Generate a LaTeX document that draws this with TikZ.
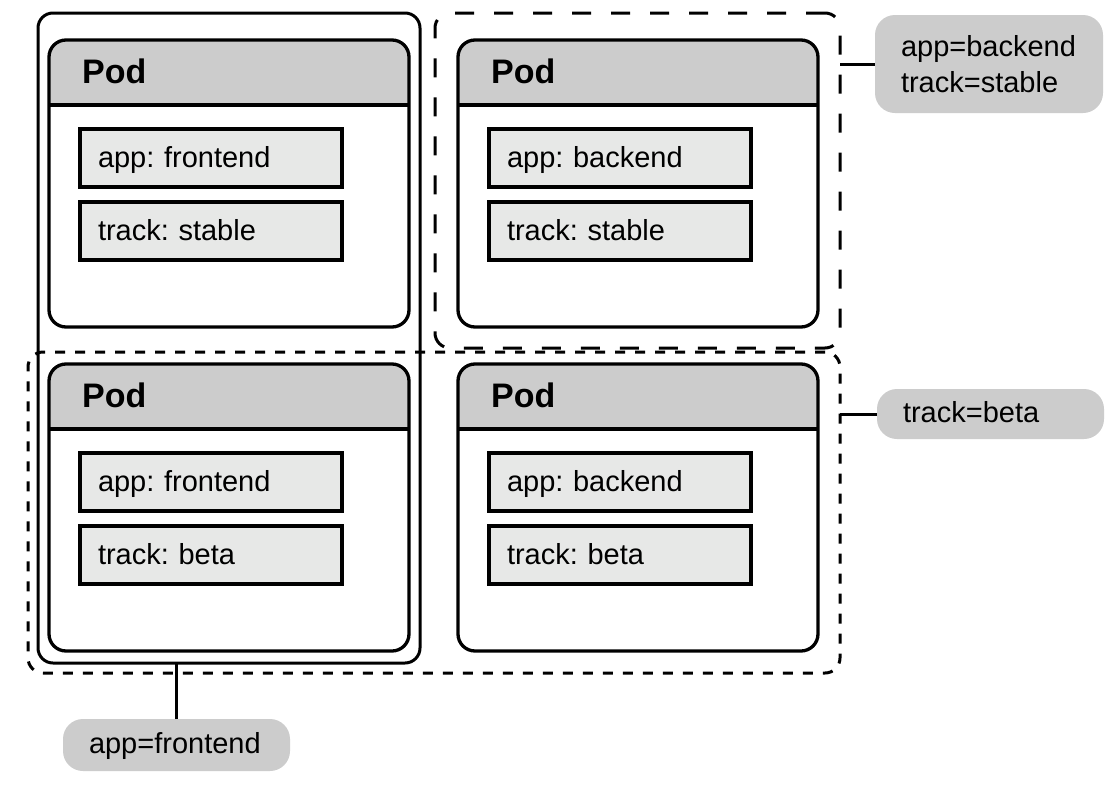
\documentclass[tikz,border=0pt]{standalone}
\usepackage{fontspec}
\setmainfont{Liberation Sans}
\frenchspacing
\definecolor{headgray}{HTML}{CCCCCC}
\definecolor{lblgray}{HTML}{E7E8E7}
\definecolor{cgray}{HTML}{CCCCCC}
\newcommand\podbox[5]{%
  \node[podframe, anchor=north west] (#1) at (#2,#3) {};
  \begin{scope}
    \clip[rounded corners=17pt] (#1.north west) rectangle (#1.south east);
    \fill[headgray] (#1.north west) rectangle ([yshift=-65pt]#1.north east);
  \end{scope}
  \draw[podline] ([yshift=-65pt]#1.north west) -- ([yshift=-65pt]#1.north east);
  \draw[podline, rounded corners=17pt] (#1.north west) rectangle (#1.south east);
  \node[podtitle, anchor=west] (#1-t) at ([xshift=33pt,yshift=-31.5pt]#1.north west) {Pod};
  \node[lbl] (#1-a) at ([xshift=31pt,yshift=-89pt]#1.north west) {\frenchspacing #4};
  \node[lbl] (#1-b) at ([xshift=31pt,yshift=-162pt]#1.north west) {\frenchspacing #5};
}
\begin{document}
\begin{tikzpicture}[x=1pt,y=-1pt,
  podframe/.style={minimum width=360pt, minimum height=287pt, inner sep=0pt, outer sep=0pt},
  podline/.style={draw=black, line width=3.3pt},
  podtitle/.style={font=\bfseries\fontsize{34}{40}\selectfont, inner sep=0pt},
  lbl/.style={draw=black, line width=3.3pt, fill=lblgray, minimum width=262pt, minimum height=58pt,
    text width=226pt, inner xsep=18pt, inner ysep=0pt, outer sep=0pt, align=left,
    font=\fontsize{29}{35}\selectfont, text height=23pt, text depth=5pt, anchor=north west},
  grp/.style={line width=3pt, rounded corners=15pt, inner sep=0pt, outer sep=0pt, anchor=north west},
  callout/.style={fill=cgray, rounded corners=20pt, inner xsep=26pt, inner ysep=0pt, outer sep=0pt,
    align=left, font=\fontsize{29}{36}\selectfont, anchor=north west},
  conn/.style={draw=black, line width=3pt}
]
\useasboundingbox (0,0) rectangle (1120,785);
\fill[white] (0,0) rectangle (1120,785);

% groups
\node[grp, draw=black, minimum width=382pt, minimum height=650pt] (fe) at (38,13) {};
\node[grp, draw=black, dash pattern=on 19pt off 20pt, minimum width=405pt, minimum height=335pt] (bs) at (435,13) {};
\node[grp, draw=black, dash pattern=on 10pt off 10pt, minimum width=812pt, minimum height=321pt] (beta) at (28,352) {};

% pods
\podbox{p1}{49}{40}{app: frontend}{track: stable}
\podbox{p2}{458}{40}{app: backend}{track: stable}
\podbox{p3}{49}{364}{app: frontend}{track: beta}
\podbox{p4}{458}{364}{app: backend}{track: beta}

% callouts
\node[callout, text width=176pt, minimum height=98pt] (cb1) at (875,15) {app=backend\\track=stable};
\node[callout, text width=175pt, minimum height=50pt, text height=22pt, text depth=5.5pt] (cb2) at (877,389) {track=beta};
\node[callout, text width=175pt, minimum height=52pt, text height=22pt, text depth=5.5pt] (cf) at (63,719) {app=frontend};

% connectors
\draw[conn] (cb1.west) -- (cb1.west -| bs.east);
\draw[conn] (cb2.west) -- (cb2.west -| beta.east);
\draw[conn] (cf.north) -- (cf.north |- fe.south);
\end{tikzpicture}
\end{document}
